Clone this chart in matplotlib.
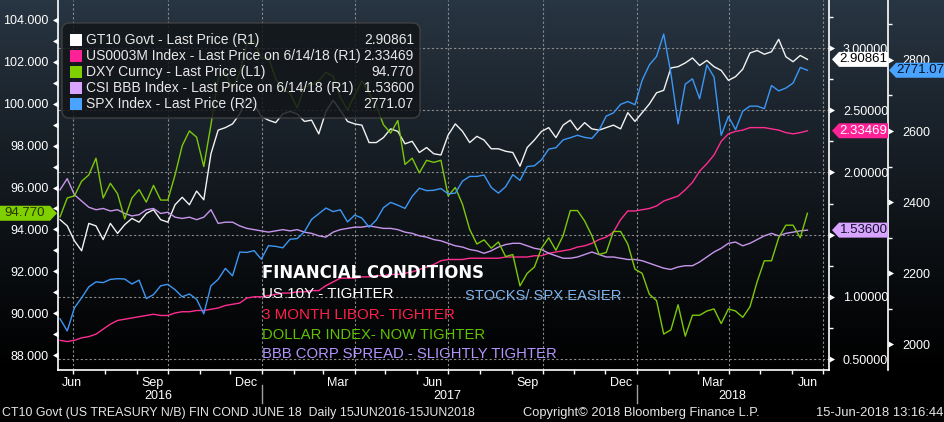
import numpy as np
import pandas as pd
import matplotlib
matplotlib.use('Agg')
import matplotlib.pyplot as plt
import matplotlib.dates as mdates
import matplotlib.transforms as mtrans
from matplotlib.patches import Polygon, Rectangle, FancyBboxPatch
from matplotlib.ticker import FixedLocator

plt.rcParams['font.family'] = ['Liberation Sans', 'DejaVu Sans']

# ---------------- data (weekly) ----------------
dates = pd.date_range('2016-06-17', '2018-06-15', freq='W-FRI')

gt10 = [1.62, 1.57, 1.45, 1.37, 1.59, 1.57, 1.46, 1.59, 1.51, 1.58,
        1.63, 1.60, 1.67, 1.70, 1.62, 1.60, 1.74, 1.80, 1.74, 1.85,
        1.78, 2.15, 2.34, 2.36, 2.39, 2.47, 2.60, 2.55, 2.45, 2.42,
        2.40, 2.47, 2.49, 2.47, 2.41, 2.42, 2.31, 2.49, 2.58, 2.50,
        2.41, 2.39, 2.38, 2.24, 2.24, 2.28, 2.35, 2.33, 2.23, 2.25,
        2.16, 2.20, 2.15, 2.14, 2.30, 2.39, 2.33, 2.24, 2.29, 2.26,
        2.19, 2.19, 2.17, 2.16, 2.05, 2.20, 2.26, 2.33, 2.36, 2.28,
        2.38, 2.42, 2.34, 2.40, 2.35, 2.34, 2.36, 2.38, 2.35, 2.48,
        2.41, 2.48, 2.55, 2.64, 2.66, 2.84, 2.85, 2.88, 2.92, 2.86,
        2.90, 2.85, 2.82, 2.74, 2.77, 2.83, 2.96, 2.98, 2.95, 2.97,
        3.07, 2.93, 2.89, 2.94, 2.90861]

libor = [0.65, 0.64, 0.65, 0.67, 0.68, 0.70, 0.74, 0.78, 0.81, 0.82,
         0.83, 0.84, 0.85, 0.86, 0.85, 0.85, 0.87, 0.88, 0.88, 0.89,
         0.89, 0.90, 0.91, 0.93, 0.94, 0.95, 0.99, 1.00, 1.00, 1.01,
         1.02, 1.03, 1.03, 1.04, 1.04, 1.05, 1.05, 1.09, 1.12, 1.15,
         1.15, 1.15, 1.16, 1.16, 1.17, 1.17, 1.18, 1.18, 1.19, 1.20,
         1.22, 1.24, 1.26, 1.29, 1.30, 1.30, 1.30, 1.31, 1.31, 1.31,
         1.31, 1.31, 1.32, 1.32, 1.32, 1.32, 1.33, 1.33, 1.35, 1.36,
         1.37, 1.38, 1.40, 1.41, 1.43, 1.46, 1.48, 1.52, 1.62, 1.69,
         1.69, 1.70, 1.71, 1.73, 1.77, 1.79, 1.81, 1.86, 1.92, 2.01,
         2.07, 2.14, 2.25, 2.31, 2.33, 2.34, 2.36, 2.36, 2.36, 2.35,
         2.34, 2.32, 2.31, 2.32, 2.33469]

dxy = [94.6, 95.5, 95.6, 96.3, 96.6, 97.4, 95.5, 96.2, 95.7, 94.5,
       95.5, 95.9, 95.3, 96.1, 95.4, 95.4, 96.6, 98.0, 98.7, 98.4,
       97.0, 99.0, 101.2, 101.5, 100.7, 101.5, 102.9, 103.0, 102.2, 102.2,
       101.2, 100.7, 100.5, 99.8, 100.8, 100.9, 101.1, 101.5, 101.3, 100.3,
       99.7, 100.4, 101.1, 100.5, 99.9, 99.0, 98.6, 99.2, 97.1, 97.4,
       96.7, 97.3, 97.2, 97.3, 95.6, 96.0, 95.2, 94.0, 93.3, 93.5,
       93.1, 93.4, 92.7, 92.8, 91.3, 91.9, 92.2, 93.1, 93.6, 93.0,
       93.7, 94.9, 94.9, 94.4, 93.7, 92.8, 92.9, 93.9, 93.9, 93.3,
       92.1, 91.9, 90.9, 90.6, 89.0, 89.2, 90.4, 88.9, 89.9, 89.9,
       90.1, 90.2, 89.5, 90.2, 90.1, 89.8, 90.3, 91.5, 92.5, 92.5,
       93.6, 94.2, 94.2, 93.6, 94.77]

bbb = [1.86, 1.95, 1.82, 1.77, 1.72, 1.70, 1.71, 1.69, 1.70, 1.67,
       1.65, 1.66, 1.70, 1.71, 1.67, 1.68, 1.64, 1.63, 1.64, 1.62,
       1.64, 1.70, 1.59, 1.60, 1.60, 1.57, 1.55, 1.54, 1.53, 1.52,
       1.53, 1.54, 1.53, 1.54, 1.52, 1.51, 1.49, 1.48, 1.52, 1.54,
       1.55, 1.56, 1.56, 1.57, 1.56, 1.55, 1.55, 1.54, 1.52, 1.51,
       1.49, 1.48, 1.46, 1.45, 1.43, 1.41, 1.40, 1.38, 1.37, 1.35,
       1.37, 1.40, 1.42, 1.43, 1.43, 1.41, 1.39, 1.38, 1.35, 1.33,
       1.31, 1.31, 1.32, 1.34, 1.36, 1.34, 1.32, 1.32, 1.31, 1.30,
       1.30, 1.29, 1.27, 1.25, 1.23, 1.22, 1.24, 1.25, 1.25, 1.28,
       1.32, 1.36, 1.39, 1.43, 1.44, 1.41, 1.43, 1.46, 1.49, 1.51,
       1.49, 1.51, 1.52, 1.53, 1.536]

spx = [2071, 2037, 2102, 2130, 2161, 2175, 2173, 2182, 2184, 2183,
       2169, 2180, 2128, 2139, 2164, 2168, 2153, 2133, 2141, 2126,
       2085, 2164, 2182, 2213, 2192, 2259, 2258, 2263, 2239, 2277,
       2275, 2271, 2295, 2297, 2316, 2351, 2367, 2383, 2373, 2378,
       2344, 2363, 2355, 2329, 2349, 2384, 2399, 2391, 2382, 2416,
       2439, 2432, 2433, 2438, 2423, 2425, 2459, 2472, 2472, 2476,
       2441, 2425, 2443, 2477, 2461, 2500, 2502, 2519, 2549, 2553,
       2575, 2581, 2588, 2582, 2579, 2602, 2642, 2651, 2675, 2683,
       2674, 2743, 2786, 2810, 2873, 2762, 2620, 2732, 2747, 2691,
       2786, 2752, 2588, 2641, 2604, 2656, 2670, 2670, 2663, 2728,
       2713, 2721, 2735, 2779, 2771.07]

legend_labels = ['GT10 Govt - Last Price (R1)',
                 'US0003M Index - Last Price on 6/14/18 (R1)',
                 'DXY Curncy - Last Price (L1)',
                 'CSI BBB Index - Last Price on 6/14/18 (R1)',
                 'SPX Index - Last Price (R2)']
legend_values = ['2.90861', '2.33469', '94.770', '1.53600', '2771.07']

xlabel_dates = ['2016-06-29', '2016-09-15', '2016-12-15', '2017-03-15', '2017-06-15',
                '2017-09-15', '2017-12-15', '2018-03-15', '2018-06-15']
xlabel_text = ['Jun', 'Sep', 'Dec', 'Mar', 'Jun', 'Sep', 'Dec', 'Mar', 'Jun']
quarter_ends = ['2016-06-30', '2016-09-30', '2016-12-31', '2017-03-31', '2017-06-30',
                '2017-09-30', '2017-12-31', '2018-03-31', '2018-06-30']
year_labels = ['2016', '2017', '2018']
year_label_dates = ['2016-09-21', '2017-06-29', '2018-04-03']
year_breaks = ['2016-12-31', '2017-12-31']

left_major = [88, 90, 92, 94, 96, 98, 100, 102, 104]
left_all = list(range(88, 105))
r1_major = [0.5, 1.0, 1.5, 2.0, 2.5, 3.0]
r1_labels = ['0.50000', '1.00000', '', '2.00000', '2.50000', '3.00000']   # 1.50000 sits under the BBB tag
r1_minor = [0.75, 1.25, 1.75, 2.25, 2.75, 3.25]
r2_major = [2000, 2200, 2400, 2600, 2800]
r2_minor = [2100, 2300, 2500, 2700, 2900]

# ---------------- colours ----------------
C_GT10 = '#f2f2f2'
C_LIBOR = '#ff2d8f'
C_DXY = '#7cc80a'
C_BBB = '#c796ec'
C_SPX = '#3d97f5'
SW = ['#ffffff', '#ff2196', '#80d000', '#d8a4ff', '#4aa3ff']
GRID = '#8a8a8a'

W, H = 945, 422
fig = plt.figure(figsize=(W / 100, H / 100), dpi=100, facecolor='black')

# background gradient
bg = fig.add_axes([0, 0, 1, 1], zorder=-10)
top = np.array([0x28, 0x35, 0x42]) / 255.0
frac = np.clip(1 - np.arange(H) / 372.0, 0, 1) ** 1.1
grad = frac[:, None] * top[None, :]
img = np.repeat(grad[:, None, :], 2, axis=1)
bg.imshow(img, aspect='auto', extent=[0, 1, 0, 1], interpolation='bilinear')
bg.axis('off')

L, R, B, T = 58, 829, 370, 0
pos = [L / W, 1 - B / H, (R - L) / W, (B - T) / H]
ax1 = fig.add_axes(pos)
ax1.set_facecolor('none')
axL = ax1.twinx()
axS = ax1.twinx()

xmin, xmax = pd.Timestamp('2016-06-15'), pd.Timestamp('2018-07-06')
ax1.set_xlim(xmin, xmax)
ax1.set_ylim(0.4116, 3.386)
axL.set_ylim(87.284, 104.955)
axS.set_ylim(1926.8, 2969)

# grid
for q in quarter_ends:
    ax1.axvline(pd.Timestamp(q), color=GRID, lw=0.8, ls=(0, (2, 2)), zorder=0)
for v in r1_major:
    ax1.axhline(v, color=GRID, lw=0.8, ls=(0, (2, 2)), zorder=0)

# lines
ax1.plot(dates, gt10, color=C_GT10, lw=1.0, zorder=3)
ax1.plot(dates, libor, color=C_LIBOR, lw=1.0, zorder=3)
ax1.plot(dates, bbb, color=C_BBB, lw=1.0, zorder=3)
axL.plot(dates, dxy, color=C_DXY, lw=1.0)
axS.plot(dates, spx, color=C_SPX, lw=1.0)

# spines
for a in (ax1, axL, axS):
    for s in a.spines.values():
        s.set_visible(False)
ax1.spines['right'].set_visible(True)
ax1.spines['bottom'].set_visible(True)
axL.spines['left'].set_visible(True)
axS.spines['right'].set_visible(True)
r2pos = (888 - L) / (R - L)
axS.spines['right'].set_position(('axes', r2pos))
for s in (ax1.spines['right'], ax1.spines['bottom'], axL.spines['left'], axS.spines['right']):
    s.set_color('white')
    s.set_linewidth(1.2)

# x ticks
ax1.set_xticks(mdates.date2num(pd.to_datetime(xlabel_dates)))
ax1.set_xticklabels(xlabel_text)
month_ends = pd.date_range('2016-07-01', '2018-07-01', freq='MS') - pd.Timedelta(days=1)
ax1.set_xticks(mdates.date2num(month_ends), minor=True)
ax1.tick_params(axis='x', which='major', length=0, pad=5, labelcolor='white', labelsize=9)
ax1.tick_params(axis='x', which='minor', length=3, width=1, color='white', direction='out')
axL.tick_params(axis='x', which='both', bottom=False, labelbottom=False)
axS.tick_params(axis='x', which='both', bottom=False, labelbottom=False)

# y ticks
ax1.yaxis.tick_right()
ax1.set_yticks(r1_major)
ax1.set_yticklabels(r1_labels)
ax1.set_yticks(r1_minor, minor=True)
ax1.tick_params(axis='y', which='major', length=0, pad=10, labelcolor='white', labelsize=9,
                left=False, labelleft=False, right=True, labelright=True)
ax1.tick_params(axis='y', which='minor', length=3, width=1, color='white', left=False, right=True)

axL.yaxis.tick_left()
axL.set_yticks(left_major)
axL.set_yticklabels(['%.3f' % v for v in left_major])
axL.tick_params(axis='y', which='major', length=0, pad=7, labelcolor='white', labelsize=9,
                right=False, labelright=False, left=True, labelleft=True)

axS.set_yticks(r2_major)
axS.set_yticklabels(['%d' % v for v in r2_major])
axS.set_yticks(r2_minor, minor=True)
axS.tick_params(axis='y', which='major', length=0, pad=10, labelcolor='white', labelsize=9)
axS.tick_params(axis='y', which='minor', length=3, width=1, color='white')

tri_r = [(0, -0.5), (0, 0.5), (0.9, 0)]
tri_l = [(0, -0.5), (0, 0.5), (-0.9, 0)]
ax1.plot(np.ones(len(r1_major)), r1_major, ls='none', marker=tri_r, ms=8, color='white', mew=0,
         transform=mtrans.blended_transform_factory(ax1.transAxes, ax1.transData), clip_on=False)
axS.plot(np.full(len(r2_major), r2pos), r2_major, ls='none', marker=tri_r, ms=8, color='white', mew=0,
         transform=mtrans.blended_transform_factory(axS.transAxes, axS.transData), clip_on=False)
axL.plot(np.zeros(len(left_all)), left_all, ls='none', marker=tri_l, ms=8, color='white', mew=0,
         transform=mtrans.blended_transform_factory(axL.transAxes, axL.transData), clip_on=False)

# year labels and separators
bt = mtrans.blended_transform_factory(ax1.transData, ax1.transAxes)
for lab, d in zip(year_labels, year_label_dates):
    ax1.text(pd.Timestamp(d), (B - 396) / (B - T), lab, transform=bt, ha='center', va='center',
             color='white', fontsize=9, clip_on=False)
for d in year_breaks:
    ax1.plot([pd.Timestamp(d)] * 2, [(B - 385) / (B - T), (B - 403) / (B - T)], transform=bt,
             color='#a0a0a0', lw=1, clip_on=False)

# value tags
def px_y(ax, val):
    return ax.transData.transform((mdates.date2num(dates[-1]), val))[1]

def tag(yd, txt, fc, tc, x0, x1, point='left', hh=7.5):
    if point == 'left':
        verts = [(x0, yd), (x0 + 7, yd + hh), (x1, yd + hh), (x1, yd - hh), (x0 + 7, yd - hh)]
        cx = (x0 + 7 + x1) / 2
    else:
        verts = [(x1, yd), (x1 - 7, yd + hh), (x0, yd + hh), (x0, yd - hh), (x1 - 7, yd - hh)]
        cx = (x0 + x1 - 7) / 2
    verts = [(x / W, y / H) for x, y in verts]
    fig.add_artist(Polygon(verts, closed=True, fc=fc, ec='none', transform=fig.transFigure, zorder=6))
    fig.text(cx / W, yd / H, txt, ha='center', va='center', color=tc, fontsize=9.5, zorder=7)

tag(px_y(ax1, gt10[-1]), '2.90861', '#ffffff', '#000000', 832, 888)
tag(px_y(ax1, libor[-1]), '2.33469', '#ff2196', '#ffffff', 832, 888)
tag(px_y(ax1, bbb[-1]), '1.53600', '#d8a4ff', '#101028', 832, 888)
tag(px_y(axS, spx[-1]), '2771.07', '#4aa3ff', '#04101e', 889, 945)
tag(px_y(axL, dxy[-1]), '94.770', '#80d000', '#263300', 0, 57, point='right')

# legend
fig.add_artist(FancyBboxPatch((62 / W, 1 - 118 / H), 358 / W, 95 / H,
                              boxstyle='round,pad=0,rounding_size=0.008', mutation_aspect=W / H,
                              fc='#121519', ec='#454545', lw=1.0, alpha=0.84,
                              transform=fig.transFigure, zorder=5))
for i, (lab, val) in enumerate(zip(legend_labels, legend_values)):
    yc = 40 + 16 * i
    fig.add_artist(Rectangle((70 / W, 1 - (yc + 6) / H), 12 / W, 12 / H, fc=SW[i], ec='none',
                             transform=fig.transFigure, zorder=6))
    fig.text(86 / W, 1 - yc / H, lab, va='center', ha='left', color='#e8e8e8', fontsize=10, zorder=7)
    fig.text(414 / W, 1 - yc / H, val, va='center', ha='right', color='#e8e8e8', fontsize=10, zorder=7)

# annotations
fig.text(262 / W, 1 - 273 / H, 'FINANCIAL CONDITIONS', family='DejaVu Sans', fontweight='bold',
         fontsize=11.9, color='white', va='center', ha='left', zorder=7)
fig.text(262 / W, 1 - 294 / H, 'US 10Y - TIGHTER', fontsize=10.9, color='white', va='center', zorder=7)
fig.text(465 / W, 1 - 296 / H, 'STOCKS/ SPX EASIER', fontsize=10.6, color='#7db4ee', va='center', zorder=7)
fig.text(262 / W, 1 - 315 / H, '3 MONTH LIBOR- TIGHTER', fontsize=10.9, color='#ff1f4b', va='center', zorder=7)
fig.text(262 / W, 1 - 335 / H, 'DOLLAR INDEX- NOW TIGHTER', fontsize=10.6, color='#5fc200', va='center', zorder=7)
fig.text(262 / W, 1 - 354 / H, 'BBB CORP SPREAD - SLIGHTLY TIGHTER', fontsize=10.7, color='#b494ff',
         va='center', zorder=7)

# footer
fig.text(2 / W, 1 - 413 / H, 'CT10 Govt (US TREASURY N/B) FIN COND JUNE 18  Daily 15JUN2016-15JUN2018',
         fontsize=8.9, color='#e6e6e6', va='center', ha='left')
fig.text(523 / W, 1 - 413 / H, 'Copyright\u00a9 2018 Bloomberg Finance L.P.', fontsize=9.3,
         color='#e6e6e6', va='center', ha='left')
fig.text(943 / W, 1 - 413 / H, '15-Jun-2018 13:16:44', fontsize=9.4, color='#e6e6e6',
         va='center', ha='right')

fig.savefig('out.png', dpi=100, facecolor='black')
